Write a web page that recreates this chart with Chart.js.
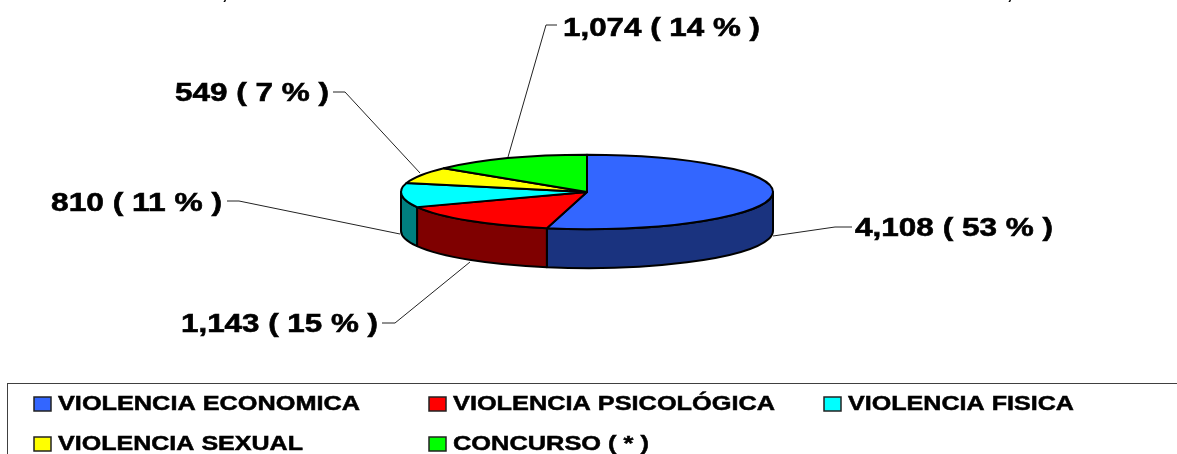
<!DOCTYPE html>
<html>
<head>
<meta charset="utf-8">
<style>
  html, body { margin: 0; padding: 0; background: #fff; overflow: hidden; }
  canvas { display: block; }
</style>
<script src="https://cdn.jsdelivr.net/npm/chart.js@4"></script>
</head>
<body>
<canvas id="pie-chart" width="1177" height="454"></canvas>
<script>
const categories = ["VIOLENCIA ECONOMICA", "VIOLENCIA PSICOLÓGICA", "VIOLENCIA FISICA", "VIOLENCIA SEXUAL", "CONCURSO ( * )"];
const values = [4108, 1143, 810, 549, 1074];
const percents = [53, 15, 11, 7, 14];

const topColors = ["#3366ff", "#ff0000", "#00ffff", "#ffff00", "#00ff00"];
const sideColors = ["#1a337f", "#7f0000", "#007f7f", "#7f7f00", "#007f00"];

const FONT = '"Liberation Sans", Arial, sans-serif';
const squash = 0.2;
const depth = 39;

// label text box (left edge, middle y, width it fills) and leader line, per slice
const callouts = [
  { x: 855, y: 229, w: 198, line: [[852, 227], [835, 227], [773, 236]] },
  { x: 181, y: 325, w: 197, line: [[382, 323], [395, 323], [470, 262]] },
  { x: 51, y: 204, w: 171, line: [[227, 201], [239, 201], [400, 234]] },
  { x: 175, y: 94, w: 154, line: [[333, 92], [345, 92], [420, 173]] },
  { x: 563, y: 29, w: 197, line: [[557, 25], [546, 25], [508, 157]] },
];

const legendCells = [
  { box: 34, text: 58, w: 302, y: 404 },
  { box: 429, text: 453, w: 322, y: 404 },
  { box: 824, text: 848, w: 226, y: 404 },
  { box: 34, text: 58, w: 245, y: 444 },
  { box: 429, text: 453, w: 196, y: 444 },
];

function stretchedText(ctx, str, x, y, w, size, heavy) {
  ctx.save();
  ctx.font = "bold " + size + "px " + FONT;
  ctx.textAlign = "left";
  ctx.textBaseline = "middle";
  ctx.fillStyle = "#000";
  ctx.strokeStyle = "#000";
  ctx.lineWidth = heavy;
  const natural = ctx.measureText(str).width;
  ctx.translate(x, y);
  ctx.scale(w / natural, 1);
  ctx.fillText(str, 0, 0);
  ctx.strokeText(str, 0, 0);
  ctx.restore();
}

function ellipseArc(ctx, arc, a, b, dy, ccw) {
  ctx.ellipse(arc.x, arc.y + dy, arc.outerRadius, arc.outerRadius * squash, 0, a, b, ccw);
}

const pie3d = {
  id: "pie3d",
  beforeDatasetsDraw(chart) {
    const ctx = chart.ctx;
    const arcs = chart.getDatasetMeta(0).data;
    ctx.save();
    ctx.lineJoin = "round";
    ctx.lineWidth = 2;
    ctx.strokeStyle = "#000";

    // side wall, only the part facing the viewer
    arcs.forEach((arc, i) => {
      const a = Math.max(arc.startAngle, 0);
      const b = Math.min(arc.endAngle, Math.PI);
      if (b <= a) return;
      ctx.beginPath();
      ellipseArc(ctx, arc, a, b, 0, false);
      ellipseArc(ctx, arc, b, a, depth, true);
      ctx.closePath();
      ctx.fillStyle = sideColors[i];
      ctx.fill();
      ctx.stroke();
    });

    // top face
    arcs.forEach((arc, i) => {
      ctx.beginPath();
      ctx.moveTo(arc.x, arc.y);
      ellipseArc(ctx, arc, arc.startAngle, arc.endAngle, 0, false);
      ctx.closePath();
      ctx.fillStyle = topColors[i];
      ctx.fill();
      ctx.stroke();
    });
    ctx.restore();
    return false;
  },
  afterDraw(chart) {
    const ctx = chart.ctx;

    // leader lines + value labels
    ctx.save();
    ctx.strokeStyle = "#222";
    ctx.lineWidth = 1;
    callouts.forEach((c, i) => {
      ctx.beginPath();
      c.line.forEach((p, k) => (k ? ctx.lineTo(p[0], p[1]) : ctx.moveTo(p[0], p[1])));
      ctx.stroke();
      const str = values[i].toLocaleString("en-US") + " ( " + percents[i] + " % )";
      stretchedText(ctx, str, c.x, c.y, c.w, 26, 0.6);
    });

    // what is left of the cropped title line
    ctx.font = "bold 20px " + FONT;
    ctx.fillStyle = "#000";
    ctx.textBaseline = "alphabetic";
    ctx.fillText(",", 222, -1);
    ctx.fillText(",", 1007, -1);

    // legend frame runs off the right and bottom edges
    ctx.strokeStyle = "#404040";
    ctx.lineWidth = 1;
    ctx.strokeRect(7.5, 383.5, 1300, 100);

    legendCells.forEach((c, i) => {
      ctx.fillStyle = topColors[i];
      ctx.fillRect(c.box, c.y - 7, 17, 14);
      ctx.strokeStyle = "#222";
      ctx.lineWidth = 1.5;
      ctx.strokeRect(c.box, c.y - 7, 17, 14);
      stretchedText(ctx, categories[i], c.text, c.y, c.w, 20.5, 0.5);
    });
    ctx.restore();
  },
};

new Chart(document.getElementById("pie-chart"), {
  type: "pie",
  plugins: [pie3d],
  data: {
    labels: categories,
    datasets: [{ data: values, backgroundColor: topColors, radius: 186 }],
  },
  options: {
    responsive: false,
    animation: false,
    layout: { padding: { right: 3, bottom: 70 } },
    plugins: {
      legend: { display: false },
      title: { display: false },
      tooltip: { enabled: false },
    },
  },
});
</script>
</body>
</html>
